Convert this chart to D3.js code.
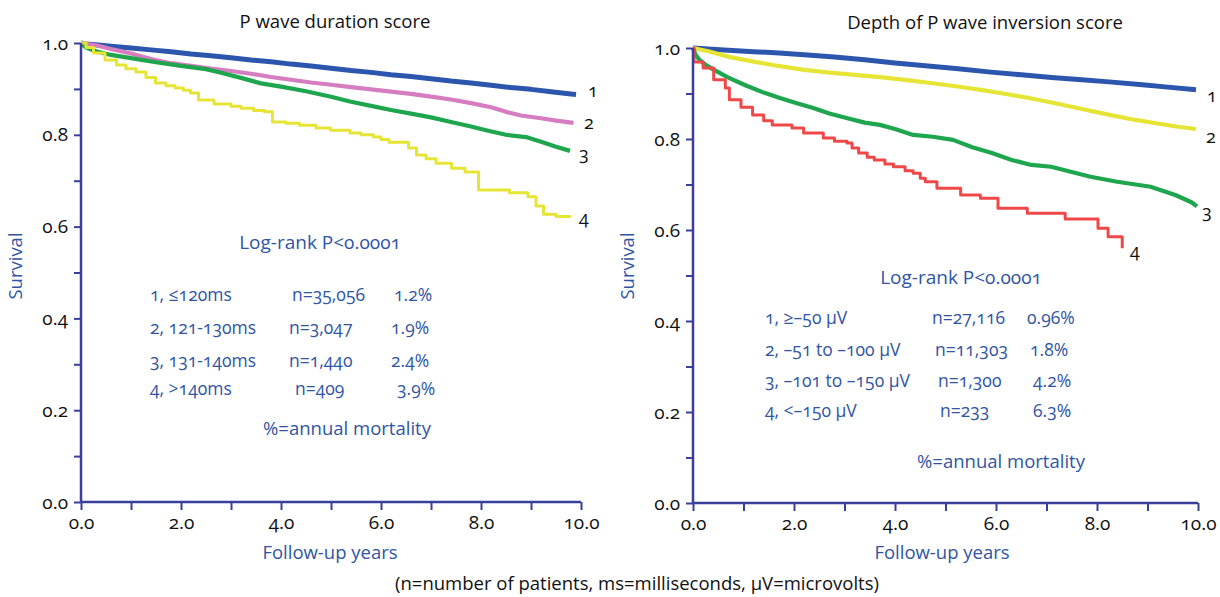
<!DOCTYPE html>
<html><head><meta charset="utf-8">
<script src="https://cdn.jsdelivr.net/npm/d3@7"></script>
<style>
html,body{margin:0;padding:0;background:#fff;}
svg text{font-family:"Open Sans","Noto Sans",sans-serif;font-variant-numeric:oldstyle-nums;font-weight:500;}
</style></head>
<body>
<svg id="chart" width="1220" height="597"></svg>
<script>
// ---------- DATA ----------
const xTicks = [0,1,2,3,4,5,6,7,8,9,10];
const xTickLabels = ["0.0","","2.0","","4.0","","6.0","","8.0","","10.0"];
const yTicks = [0,0.1,0.2,0.3,0.4,0.5,0.6,0.7,0.8,0.9,1.0];
const yTickLabels = ["0.0","","0.2","","0.4","","0.6","","0.8","","1.0"];

// Left panel: P wave duration score  [years, survival]
const pwd1 = [[0,1.0],[0.1,0.998],[0.3,0.996],[0.6,0.993],[1.0,0.989],[1.4,0.985],[1.8,0.981],[2.2,0.976],[2.6,0.972],[3.0,0.968],[3.4,0.963],[3.8,0.959],[4.2,0.954],[4.6,0.950],[5.0,0.945],[5.4,0.940],[5.8,0.936],[6.2,0.931],[6.6,0.927],[7.0,0.922],[7.4,0.917],[7.8,0.913],[8.2,0.908],[8.6,0.903],[9.0,0.899],[9.4,0.894],[9.8,0.889],[9.9,0.888]];
const pwd2 = [[0,1.0],[0.3,0.995],[0.6,0.987],[1.0,0.977],[1.4,0.965],[1.8,0.956],[2.2,0.950],[2.6,0.944],[3.0,0.939],[3.4,0.933],[3.8,0.926],[4.2,0.920],[4.6,0.914],[5.0,0.909],[5.4,0.904],[5.8,0.899],[6.2,0.894],[6.6,0.889],[7.0,0.883],[7.4,0.877],[7.8,0.869],[8.2,0.860],[8.5,0.850],[8.8,0.842],[9.2,0.836],[9.5,0.831],[9.85,0.826]];
const pwd3 = [[0,1.0],[0.1,0.990],[0.3,0.982],[0.6,0.974],[1.0,0.967],[1.5,0.958],[2.0,0.950],[2.5,0.943],[2.8,0.935],[3.2,0.924],[3.6,0.912],[4.0,0.905],[4.5,0.895],[5.0,0.883],[5.4,0.872],[5.8,0.863],[6.2,0.854],[6.6,0.846],[7.0,0.838],[7.4,0.828],[7.8,0.818],[8.1,0.810],[8.5,0.800],[8.9,0.795],[9.2,0.785],[9.5,0.774],[9.78,0.765]];
const pwd4 = [[0,1.0],[0.1,0.990],[0.25,0.978],[0.48,0.963],[0.71,0.952],[0.9,0.944],[1.1,0.937],[1.3,0.925],[1.49,0.913],[1.7,0.907],[1.88,0.902],[2.05,0.897],[2.19,0.891],[2.35,0.876],[2.66,0.867],[3.0,0.862],[3.2,0.858],[3.45,0.853],[3.67,0.850],[3.83,0.828],[4.1,0.825],[4.37,0.821],[4.7,0.815],[4.99,0.810],[5.38,0.804],[5.6,0.800],[5.85,0.795],[6.0,0.790],[6.16,0.784],[6.55,0.771],[6.71,0.756],[6.9,0.748],[7.1,0.738],[7.41,0.727],[7.68,0.719],[7.95,0.680],[8.57,0.674],[8.94,0.665],[9.1,0.645],[9.25,0.627],[9.5,0.622],[9.78,0.620]];

// Right panel: Depth of P wave inversion score
const dpi1 = [[0,1.0],[0.3,0.998],[0.7,0.995],[1.2,0.992],[1.7,0.989],[2.2,0.985],[2.8,0.980],[3.4,0.974],[4.0,0.967],[4.6,0.961],[5.2,0.955],[5.9,0.947],[6.5,0.941],[7.1,0.935],[7.7,0.930],[8.3,0.925],[8.9,0.919],[9.4,0.914],[9.96,0.908]];
const dpi2 = [[0,1.0],[0.3,0.993],[0.73,0.980],[1.2,0.970],[1.72,0.960],[2.2,0.952],[2.7,0.946],[3.2,0.941],[3.7,0.936],[4.2,0.930],[4.7,0.923],[5.2,0.916],[5.7,0.908],[6.2,0.899],[6.7,0.889],[7.2,0.878],[7.7,0.866],[8.25,0.853],[8.7,0.843],[9.2,0.834],[9.6,0.827],[9.96,0.822]];
const dpi3 = [[0,1.0],[0.05,0.985],[0.12,0.975],[0.25,0.963],[0.4,0.953],[0.7,0.935],[1.06,0.917],[1.4,0.902],[1.72,0.890],[2.04,0.879],[2.38,0.868],[2.7,0.856],[3.04,0.846],[3.4,0.836],[3.7,0.831],[4.0,0.822],[4.36,0.809],[4.75,0.805],[5.15,0.798],[5.53,0.782],[5.92,0.769],[6.31,0.754],[6.7,0.743],[7.09,0.739],[7.48,0.728],[7.87,0.717],[8.4,0.706],[9.06,0.695],[9.55,0.677],[9.87,0.661],[9.98,0.652]];
const dpi4 = [[0,1.0],[0.02,0.969],[0.2,0.956],[0.41,0.930],[0.64,0.912],[0.72,0.886],[0.95,0.870],[1.18,0.853],[1.4,0.840],[1.57,0.831],[1.96,0.824],[2.19,0.813],[2.58,0.802],[2.8,0.795],[3.05,0.791],[3.15,0.780],[3.28,0.769],[3.45,0.760],[3.59,0.754],[3.8,0.745],[3.97,0.739],[4.2,0.730],[4.36,0.725],[4.5,0.714],[4.6,0.706],[4.83,0.692],[5.3,0.677],[5.69,0.670],[6.04,0.648],[6.62,0.637],[7.37,0.624],[8.02,0.604],[8.22,0.585],[8.5,0.560]];

const pwdLegendLabels = ["1, \u2264120ms","2, 121-130ms","3, 131-140ms","4, >140ms"];
const pwdLegendN = ["n=35,056","n=3,047","n=1,440","n=409"];
const pwdLegendPct = ["1.2%","1.9%","2.4%","3.9%"];
const dpiLegendLabels = ["1, \u2265\u201350 \u00b5V","2, \u201351 to \u2013100 \u00b5V","3, \u2013101 to \u2013150 \u00b5V","4, <\u2013150 \u00b5V"];
const dpiLegendN = ["n=27,116","n=11,303","n=1,300","n=233"];
const dpiLegendPct = ["0.96%","1.8%","4.2%","6.3%"];
const curveLabels = ["1","2","3","4"];

// ---------- STYLE ----------
const axisColor = "#3b3f9c";
const textBlue = "#2f55a4";
const pwdColors = ["#2c56ad","#d67cc0","#1ea64e","#e6e536"];
const pwdWidths = [5,4.2,4.2,3];
const pwdStep = [false,false,false,true];
const dpiColors = ["#2c56ad","#e6e536","#1ea64e","#f04848"];
const dpiWidths = [5,4.2,4.2,3];
const dpiStep = [false,false,false,true];

const svg = d3.select("#chart");

function panel(o){
  const x = d3.scaleLinear().domain([0,10]).range([o.x0,o.x1]);
  const y = d3.scaleLinear().domain([0,1]).range([o.y0,o.y1]);
  const g = svg.append("g");

  // curves
  o.series.forEach((s,i)=>{
    const line = d3.line().x(d=>x(d[0])).y(d=>y(d[1]))
      .curve(o.step[i] ? d3.curveStepAfter : d3.curveLinear);
    g.append("path").attr("d",line(s)).attr("fill","none")
     .attr("stroke",o.colors[i]).attr("stroke-width",o.widths[i])
     .attr("stroke-linejoin","round").attr("stroke-linecap","butt");
  });

  // axes
  const xa = g.append("g").attr("transform",`translate(0,${o.y0})`)
    .call(d3.axisBottom(x).tickValues(xTicks).tickSize(8).tickPadding(6)
      .tickFormat((d,i)=>xTickLabels[i]));
  const ya = g.append("g").attr("transform",`translate(${o.x0},0)`)
    .call(d3.axisLeft(y).tickValues(yTicks).tickSize(7).tickPadding(6)
      .tickFormat((d,i)=>yTickLabels[i]));
  [xa,ya].forEach(a=>{
    a.attr("font-size",null).attr("font-family",null);
    a.select(".domain").attr("stroke",axisColor).attr("stroke-width",2.5);
    a.selectAll(".tick line").attr("stroke",axisColor).attr("stroke-width",2);
    a.selectAll(".tick text").attr("fill","#111").style("font-size","19px");
  });
  xa.select(".domain").attr("d",`M${o.x0},0H${o.x1}`);
  ya.select(".domain").attr("d",`M0,${o.y0}V${o.y1}`);

  // title
  g.append("text").attr("x",o.titleX).attr("y",o.titleY).attr("text-anchor","middle")
   .attr("fill","#111").style("font-size","18.5px").text(o.title);
  // axis titles
  g.append("text").attr("x",o.xLabelX).attr("y",559).attr("text-anchor","middle")
   .attr("fill",textBlue).style("font-size","18.5px").text("Follow-up years");
  g.append("text").attr("transform",`translate(${o.yLabelX},266) rotate(-90)`)
   .attr("text-anchor","middle").attr("fill",textBlue).style("font-size","18.5px").text("Survival");

  // curve end labels
  o.endLabels.forEach((p,i)=>{
    g.append("text").attr("x",p[0]).attr("y",p[1]).attr("fill","#111")
     .attr("dominant-baseline","middle").style("font-size","18px").text(curveLabels[i]);
  });

  // annotations
  g.append("text").attr("x",o.logX).attr("y",o.logY).attr("text-anchor","middle")
   .attr("dominant-baseline","middle").attr("fill",textBlue).style("font-size","19px")
   .text("Log-rank P<0.0001");
  o.rowsY.forEach((ry,i)=>{
    g.append("text").attr("x",o.colX[0]).attr("y",ry).attr("dominant-baseline","middle")
     .attr("fill",textBlue).style("font-size","17.5px").text(o.legLabels[i]);
    g.append("text").attr("x",o.nX[i]).attr("y",ry).attr("dominant-baseline","middle")
     .attr("fill",textBlue).style("font-size","17.5px").text(o.legN[i]);
    g.append("text").attr("x",o.pX[i]).attr("y",ry).attr("dominant-baseline","middle")
     .attr("fill",textBlue).style("font-size","17.5px").text(o.legPct[i]);
  });
  g.append("text").attr("x",o.mortX).attr("y",o.mortY).attr("text-anchor","middle")
   .attr("dominant-baseline","middle").attr("fill",textBlue).style("font-size","18.5px")
   .text("%=annual mortality");
}

panel({
  x0:81,x1:581,y0:502,y1:43,
  series:[pwd1,pwd2,pwd3,pwd4],colors:pwdColors,widths:pwdWidths,step:pwdStep,
  title:"P wave duration score",titleX:335,titleY:28,
  xLabelX:330,yLabelX:22,
  endLabels:[[588,92],[584,124],[579,155],[579,219]],
  logX:320,logY:244,
  rowsY:[296,329,362,390],colX:[150],
  nX:[292,289,289,295],pX:[394,391,391,397],
  legLabels:pwdLegendLabels,legN:pwdLegendN,legPct:pwdLegendPct,
  mortX:347,mortY:430
});
panel({
  x0:693,x1:1198,y0:503,y1:48,
  series:[dpi1,dpi2,dpi3,dpi4],colors:dpiColors,widths:dpiWidths,step:dpiStep,
  title:"Depth of P wave inversion score",titleX:985,titleY:29,
  xLabelX:942,yLabelX:634,
  endLabels:[[1207,97],[1206,138],[1202,213],[1130,252]],
  logX:961,logY:279,
  rowsY:[319,351,382,412],colX:[765],
  nX:[932,935,938,940],pX:[1027,1030,1033,1033],
  legLabels:dpiLegendLabels,legN:dpiLegendN,legPct:dpiLegendPct,
  mortX:1001,mortY:463
});

svg.append("text").attr("x",637).attr("y",590).attr("text-anchor","middle")
  .attr("fill","#111").style("font-size","18.5px")
  .text("(n=number of patients, ms=milliseconds, \u00b5V=microvolts)");
</script>
</body></html>
